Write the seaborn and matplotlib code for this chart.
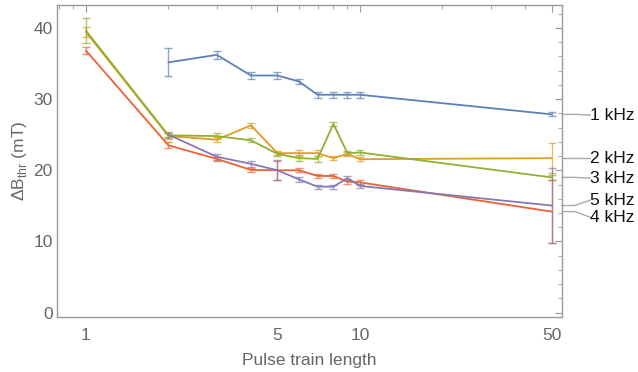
import numpy as np
import pandas as pd
import matplotlib
matplotlib.use("Agg")
import matplotlib.pyplot as plt
import matplotlib.transforms as mtransforms
from matplotlib.ticker import FixedLocator, NullFormatter, FixedFormatter, MultipleLocator
import seaborn as sns

pulse_len = [1, 2, 3, 4, 5, 6, 7, 8, 9, 10, 50]
series_names = ["1 kHz", "2 kHz", "3 kHz", "4 kHz", "5 kHz"]
y_1k = [np.nan, 35.15, 36.2, 33.3, 33.3, 32.45, 30.6, 30.6, 30.6, 30.6, 27.85]
e_1k = [np.nan, 1.95, 0.6, 0.5, 0.5, 0.4, 0.4, 0.4, 0.4, 0.4, 0.3]
y_2k = [39.4, 24.8, 24.3, 26.3, 22.4, 22.4, 22.4, 21.7, 22.3, 21.55, 21.7]
e_2k = [0.7, 0.4, 0.4, 0.4, 0.3, 0.4, 0.4, 0.3, 0.3, 0.3, 2.1]
y_3k = [39.6, 24.9, 24.8, 24.2, 22.3, 21.7, 21.6, 26.5, 22.4, 22.5, 19.0]
e_3k = [1.8, 0.4, 0.4, 0.3, 0.3, 0.4, 0.4, 0.3, 0.3, 0.3, 0.3]
y_4k = [36.8, 23.5, 21.6, 20.05, 20.0, 20.0, 19.2, 19.2, 18.4, 18.3, 14.2]
e_4k = [0.5, 0.4, 0.3, 0.3, 1.3, 0.3, 0.3, 0.3, 0.3, 0.3, 4.4]
y_5k = [np.nan, 25.0, 21.9, 20.9, 20.0, 18.7, 17.7, 17.7, 18.9, 17.8, 15.05]
e_5k = [np.nan, 0.4, 0.4, 0.4, 1.4, 0.3, 0.3, 0.3, 0.3, 0.3, 5.25]
label_y = {"1 kHz": 27.75, "2 kHz": 21.7, "3 kHz": 18.9, "5 kHz": 15.8, "4 kHz": 13.4}
x_ticks = [1, 5, 10, 50]
y_ticks = [0, 10, 20, 30, 40]

colors = {"1 kHz": "#5E81B5", "2 kHz": "#E19C24", "3 kHz": "#8FB032",
          "4 kHz": "#EB6235", "5 kHz": "#8778B3"}

ys = {"1 kHz": y_1k, "2 kHz": y_2k, "3 kHz": y_3k, "4 kHz": y_4k, "5 kHz": y_5k}
es = {"1 kHz": e_1k, "2 kHz": e_2k, "3 kHz": e_3k, "4 kHz": e_4k, "5 kHz": e_5k}

rows = []
for s in series_names:
    for x, y, e in zip(pulse_len, ys[s], es[s]):
        if not np.isnan(y):
            rows.append({"x": x, "y": y, "err": e, "series": s})
df = pd.DataFrame(rows)

sns.set_theme(style="white")
plt.rcParams['font.family'] = ['Liberation Sans', 'DejaVu Sans']

fig = plt.figure(figsize=(6.38, 3.72), dpi=100)
ax = fig.add_axes([57/638, 1-317/372, 505/638, 312/372])

for s in series_names:
    d = df[df.series == s]
    ax.errorbar(d.x, d.y, yerr=d.err, fmt="none", ecolor=colors[s], alpha=0.7,
                elinewidth=1.0, capsize=3, capthick=1.0, zorder=2)

sns.lineplot(data=df, x="x", y="y", hue="series", palette=colors, ax=ax,
             linewidth=1.3, legend=False, estimator=None, sort=True, zorder=3)

ax.set_xscale("log")
ax.set_xlim(0.784, 54.6)
ax.set_ylim(-0.6, 43.2)

ax.xaxis.set_major_locator(FixedLocator(x_ticks))
ax.xaxis.set_major_formatter(FixedFormatter([str(t) for t in x_ticks]))
ax.xaxis.set_minor_locator(FixedLocator([0.8, 0.9, 2, 3, 4, 6, 7, 8, 9, 20, 30, 40]))
ax.xaxis.set_minor_formatter(NullFormatter())
ax.yaxis.set_major_locator(FixedLocator(y_ticks))
ax.yaxis.set_minor_locator(MultipleLocator(2))

spine_col = "#9a9a9a"
for sp in ax.spines.values():
    sp.set_visible(True)
    sp.set_color(spine_col)
    sp.set_linewidth(1.0)

ax.tick_params(which="both", direction="in", top=True, right=True, colors=spine_col,
               labelcolor="#666666", labelsize=12.5)
ax.tick_params(which="major", length=5, width=0.8)
ax.tick_params(which="minor", length=3, width=0.6)
ax.tick_params(axis="x", pad=8)
ax.tick_params(axis="y", pad=3)

ax.set_xlabel("Pulse train length", color="#666666", fontsize=12.5, labelpad=7)
ax.set_ylabel(r"ΔB$_\mathregular{thr}$ (mT)", color="#666666", fontsize=12.5, labelpad=3)

trans = mtransforms.blended_transform_factory(ax.transAxes, ax.transData)
for s in ["1 kHz", "2 kHz", "3 kHz", "5 kHz", "4 kHz"]:
    yv = ys[s][-1]
    yl = label_y[s]
    ax.plot([1.0, 1.025, 1.056], [yv, yv, yl], color="#aaaaaa", lw=1.0,
            transform=trans, clip_on=False)
    ax.text(1.056, yl, s, transform=trans, ha="left", va="center",
            fontsize=12.5, color="#111111")

fig.savefig("out.png", dpi=100)
